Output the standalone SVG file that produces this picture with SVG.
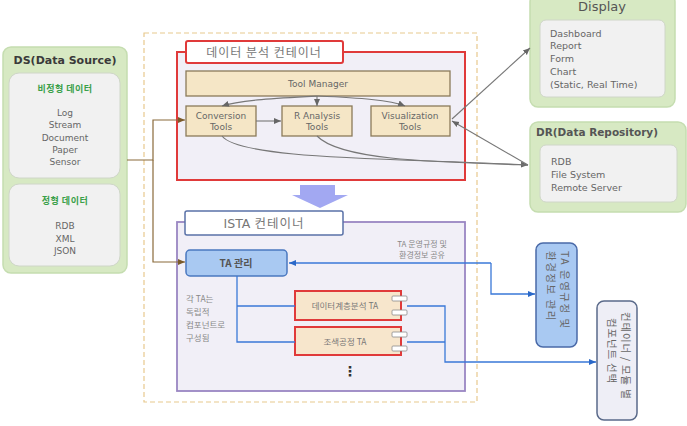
<svg xmlns="http://www.w3.org/2000/svg" width="687" height="426" viewBox="0 0 687 426">
<style>
text{font-family:"DejaVu Sans","Noto Sans CJK KR",sans-serif;fill:#666}
.ko{font-family:"Noto Sans CJK KR","DejaVu Sans",sans-serif}
.g{fill:#d7e9c3;stroke:#c5ddb0;stroke-width:1.5}
.in{fill:#f1f1f1;stroke:#cfd6c8;stroke-width:1}
.t{font-size:9px;text-anchor:middle}
.tool{fill:#f5e6c6;stroke:#8a7a5a;stroke-width:1.3}
.ta{fill:#f7e6cc;stroke:#e03a3a;stroke-width:2}
.tab{fill:#fff;stroke:#8a8a8a;stroke-width:0.8}
.gc{fill:none;stroke:#777;stroke-width:1.1}
.bl{fill:none;stroke:#3a78d8;stroke-width:1.3}
.br{fill:none;stroke:#8a6a3a;stroke-width:1.2}
.vt{font-size:10.5px;fill:#666;letter-spacing:1.5px}
.vt2{font-size:10.5px;fill:#666;letter-spacing:0.8px}
</style>
<defs>
<marker id="ag" markerWidth="8" markerHeight="8" refX="7" refY="4" orient="auto" markerUnits="userSpaceOnUse"><path d="M0,1 L7,4 L0,7 Z" fill="#666"/></marker>
<marker id="ab" markerWidth="8" markerHeight="8" refX="7" refY="4" orient="auto" markerUnits="userSpaceOnUse"><path d="M0,1 L7,4 L0,7 Z" fill="#2a68c8"/></marker>
<marker id="abr" markerWidth="8" markerHeight="8" refX="7" refY="4" orient="auto" markerUnits="userSpaceOnUse"><path d="M0,1 L7,4 L0,7 Z" fill="#7a5a2a"/></marker>
</defs>
<rect width="687" height="426" fill="#fff"/>

<!-- outer dashed container -->
<rect x="144" y="33" width="333" height="369" fill="none" stroke="#e8c98e" stroke-width="1.2" stroke-dasharray="5,3"/>

<g id="ds">
<rect class="g" x="3" y="47" width="124" height="226" rx="8"/>
<text x="65" y="64" style="font-size:11px;font-weight:bold;fill:#3a3a3a" text-anchor="middle">DS(Data Source)</text>
<rect class="in" x="9" y="73" width="111" height="105" rx="10"/>
<text class="ko" x="65" y="92" style="font-size:9px;fill:#3aa04a;font-weight:bold;letter-spacing:0.5px" text-anchor="middle">비정형 데이터</text>
<text class="t" x="65" y="116">Log</text>
<text class="t" x="65" y="128">Stream</text>
<text class="t" x="65" y="141">Document</text>
<text class="t" x="65" y="153">Paper</text>
<text class="t" x="65" y="165">Sensor</text>
<rect class="in" x="9" y="184" width="111" height="82" rx="10"/>
<text class="ko" x="65" y="204" style="font-size:9px;fill:#3aa04a;font-weight:bold;letter-spacing:0.5px" text-anchor="middle">정형 데이터</text>
<text class="t" x="65" y="229">RDB</text>
<text class="t" x="65" y="242">XML</text>
<text class="t" x="65" y="254">JSON</text>
</g>

<g id="analysis-container">
<rect x="177" y="52" width="288" height="128" fill="#f1eff7" stroke="#e03a3a" stroke-width="2"/>
<rect x="186" y="41" width="157" height="22" fill="#fff" stroke="#e03a3a" stroke-width="2" rx="2"/>
<text class="ko" x="264" y="57" style="font-size:12px;fill:#777;letter-spacing:1px" text-anchor="middle">데이터 분석 컨테이너</text>
</g>

<g id="tool-manager">
<rect class="tool" x="186" y="71" width="264" height="25"/>
<text class="t" x="318" y="87">Tool Manager</text>
</g>
<g id="conversion">
<rect class="tool" x="186" y="106" width="70" height="30"/>
<text class="t" x="221" y="119">Conversion</text>
<text class="t" x="221" y="130">Tools</text>
</g>
<g id="r-analysis">
<rect class="tool" x="282" y="106" width="70" height="30"/>
<text class="t" x="317" y="119">R Analysis</text>
<text class="t" x="317" y="130">Tools</text>
</g>
<g id="visualization">
<rect class="tool" x="371" y="106" width="79" height="30"/>
<text class="t" x="410" y="119">Visualization</text>
<text class="t" x="410" y="130">Tools</text>
</g>

<g id="display">
<rect class="g" x="530" y="-6" width="145" height="113" rx="8"/>
<text x="602" y="11" style="font-size:13px;fill:#555" text-anchor="middle">Display</text>
<rect class="in" x="540" y="20" width="125" height="77" rx="6"/>
<text x="550" y="37" style="font-size:9.5px">Dashboard</text>
<text x="550" y="49" style="font-size:9.5px">Report</text>
<text x="550" y="62" style="font-size:9.5px">Form</text>
<text x="550" y="75" style="font-size:9.5px">Chart</text>
<text x="550" y="88" style="font-size:9.5px">(Static, Real Time)</text>
</g>

<g id="dr">
<rect class="g" x="530" y="122" width="156" height="90" rx="8"/>
<text x="536" y="136" style="font-size:10.5px;font-weight:bold;fill:#555">DR(Data Repository)</text>
<rect class="in" x="540" y="145" width="137" height="57" rx="6"/>
<text x="551" y="165" style="font-size:9.5px">RDB</text>
<text x="551" y="178" style="font-size:9.5px">File System</text>
<text x="551" y="191" style="font-size:9.5px">Remote Server</text>
</g>

<g id="big-arrow">
<path d="M300,185 L335,185 L335,195 L348,195 L320,208 L292,195 L300,195 Z" fill="#a2a8f2"/>
</g>

<g id="ista-container">
<rect x="177" y="222" width="288" height="169" fill="#f1eff7" stroke="#9a86c2" stroke-width="1.8"/>
<rect x="185" y="211" width="158" height="24" fill="#fff" stroke="#5a72a8" stroke-width="1.5" rx="2"/>
<text x="264" y="228" style="font-size:12.5px;fill:#777" text-anchor="middle">ISTA <tspan class="ko" style="letter-spacing:1px">컨테이너</tspan></text>
<text class="ko" x="422" y="247" style="font-size:8px;fill:#888" text-anchor="middle">TA 운영규정 및</text>
<text class="ko" x="422" y="258" style="font-size:8px;fill:#888" text-anchor="middle">환경정보 공유</text>
<text class="ko" x="186" y="302" style="font-size:8.5px;fill:#888">각 TA는</text>
<text class="ko" x="186" y="315" style="font-size:8.5px;fill:#888">독립적</text>
<text class="ko" x="186" y="328" style="font-size:8.5px;fill:#888">컴포넌트로</text>
<text class="ko" x="186" y="341" style="font-size:8.5px;fill:#888">구성됨</text>
<text x="350" y="376" style="font-size:14px;font-weight:bold;fill:#333" text-anchor="middle">⋮</text>
</g>

<g id="ta-manage">
<rect x="186" y="250" width="101" height="26" rx="4" fill="#a9c9f2" stroke="#4a78c0" stroke-width="1.5"/>
<text class="ko" x="236" y="267" style="font-size:10px;font-weight:bold;fill:#555" text-anchor="middle">TA 관리</text>
</g>

<g id="ta1">
<rect class="ta" x="295" y="291" width="106" height="29"/>
<rect class="tab" x="392" y="296" width="15" height="5" rx="1"/>
<rect class="tab" x="392" y="310" width="15" height="5" rx="1"/>
<text class="ko" x="345" y="309" style="font-size:8.5px;fill:#777" text-anchor="middle">데이터계층분석 TA</text>
</g>
<g id="ta2">
<rect class="ta" x="295" y="327" width="106" height="28"/>
<rect class="tab" x="392" y="332" width="15" height="5" rx="1"/>
<rect class="tab" x="392" y="346" width="15" height="5" rx="1"/>
<text class="ko" x="345" y="345" style="font-size:8.5px;fill:#777" text-anchor="middle">조색공정 TA</text>
</g>

<g id="ta-rules">
<rect x="536" y="243" width="41" height="104" rx="7" fill="#a9c9f2" stroke="#4a6aa8" stroke-width="1.5"/>
<text class="ko vt" transform="translate(561,251) rotate(90)">TA 운영규정 및</text>
<text class="ko vt" transform="translate(547,251) rotate(90)">환경정보 관리</text>
</g>

<g id="component-select">
<rect x="597" y="301" width="40" height="119" rx="7" fill="#eeeef6" stroke="#5a6a8a" stroke-width="1.5"/>
<text class="ko vt2" transform="translate(622,312) rotate(90)">컨테이너 / 모듈 별</text>
<text class="ko vt2" transform="translate(608,318) rotate(90)">컴포넌트 선택</text>
</g>

<g id="connectors">
<!-- DS feed -->
<path class="br" d="M127,160 L153,160 L153,120 L185,120" marker-end="url(#abr)"/>
<path class="br" d="M153,160 L153,262 L185,262" marker-end="url(#abr)"/>
<!-- tool manager to tools -->
<path class="gc" d="M318,96 C280,98 240,100 222,106" marker-end="url(#ag)"/>
<path class="gc" d="M317,96 L317,106" marker-end="url(#ag)"/>
<path class="gc" d="M318,96 C360,98 390,100 405,106" marker-end="url(#ag)"/>
<path class="gc" d="M256,121 L281,121" marker-end="url(#ag)"/>
<!-- to DR -->
<path class="gc" d="M222,136 C240,160 400,158 528,165" marker-end="url(#ag)"/>
<path class="gc" d="M317,136 C340,160 430,162 528,165"/>
<path class="gc" d="M528,165 L452,121" marker-end="url(#ag)"/>
<path class="gc" d="M452,119 L530,48" marker-end="url(#ag)"/>
<!-- ISTA internal -->
<path class="bl" d="M237,276 L237,342 L295,342 M237,306 L295,306"/>
<path class="bl" d="M491,263 L289,263" marker-end="url(#ab)"/>
<path class="bl" d="M491,263 L491,294 L535,294" marker-end="url(#ab)"/>
<path class="bl" d="M407,306 L445,306 L445,362 L596,362" marker-end="url(#ab)"/>
<path class="bl" d="M407,342 L445,342"/>
</g>
</svg>
